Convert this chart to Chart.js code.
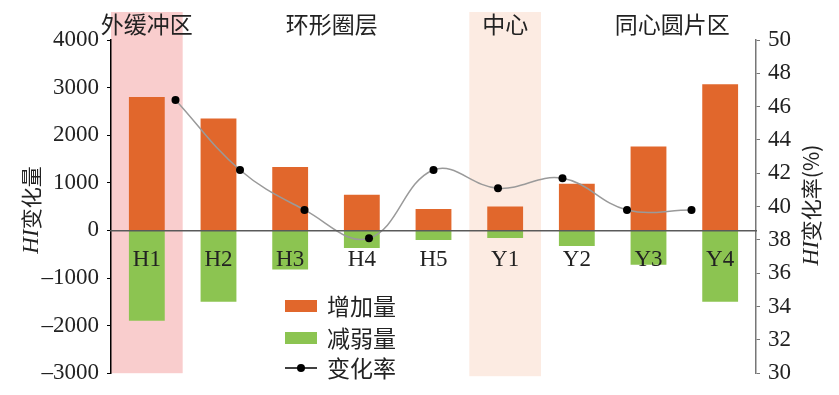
<!DOCTYPE html>
<html>
<head>
<meta charset="utf-8">
<script src="https://cdn.jsdelivr.net/npm/chart.js@4.4.1/dist/chart.umd.min.js"></script>
<style>
  html, body { margin: 0; padding: 0; background: #fff; }
</style>
</head>
<body>
<canvas id="hiChart" width="839" height="395"></canvas>
<script>
// data
const categories = ['H1', 'H2', 'H3', 'H4', 'H5', 'Y1', 'Y2', 'Y3', 'Y4'];
const increase = [2800, 2350, 1330, 750, 450, 500, 980, 1760, 3070];
const decrease = [-1900, -1500, -820, -370, -200, -160, -330, -720, -1500];
const changeRate = [46.4, 42.2, 39.8, 38.1, 42.2, 41.1, 41.7, 39.8, 39.8];
const seriesNames = ['增加量', '减弱量', '变化率'];
const zoneNames = ['外缓冲区', '环形圈层', '中心', '同心圆片区'];

// layout of the group headings (category position) and shaded columns
const zoneCenters = [0, 2.58, 5, 7.33];
const shaded = [{ index: 0, color: '#f9cdcd' }, { index: 5, color: '#fcebe2' }];

const ORANGE = '#e1672c';
const GREEN = '#8cc451';
const SERIF = "'Liberation Serif', 'Times New Roman', serif";
const CJK = "'Noto Sans CJK SC', sans-serif";

const fmtTick = v => (v < 0 ? '\u2013' + Math.abs(v) : String(v));

function drawTitle(ctx, cx, cy, italicPart, rest) {
    ctx.save();
    ctx.translate(cx, cy);
    ctx.rotate(-Math.PI / 2);
    ctx.textBaseline = 'middle';
    ctx.fillStyle = '#222';
    ctx.font = 'italic 23px ' + SERIF;
    const w1 = ctx.measureText(italicPart).width;
    ctx.font = '21px ' + CJK;
    const w2 = ctx.measureText(rest).width;
    let x = -(w1 + w2) / 2;
    ctx.font = 'italic 23px ' + SERIF;
    ctx.textAlign = 'left';
    ctx.fillText(italicPart, x, 1);
    ctx.font = '21px ' + CJK;
    ctx.fillText(rest, x + w1, 0);
    ctx.restore();
}

const decor = {
    id: 'decor',
    beforeDraw(chart) {
        const { ctx, chartArea, scales: { x } } = chart;
        const w = x.width / categories.length;
        ctx.save();
        shaded.forEach(s => {
            ctx.fillStyle = s.color;
            const px = x.getPixelForValue(s.index);
            ctx.fillRect(px - w / 2, 12, w, chartArea.bottom - 12 + (s.index ? 3 : 0));
        });
        ctx.restore();
    },
    afterDraw(chart) {
        const { ctx, scales: { x } } = chart;
        ctx.save();
        // group headings
        ctx.font = '23px ' + CJK;
        ctx.fillStyle = '#222';
        ctx.textAlign = 'center';
        ctx.textBaseline = 'middle';
        const w = x.width / categories.length;
        zoneNames.forEach((n, i) => {
            ctx.fillText(n, x.getPixelForValue(0) + zoneCenters[i] * w, 24);
        });

        // legend
        const lx = 285, ly = [306, 338, 368];
        const ds = chart.data.datasets;
        ctx.fillStyle = ds[0].backgroundColor;
        ctx.fillRect(lx, ly[0] - 6, 32, 12);
        ctx.fillStyle = ds[1].backgroundColor;
        ctx.fillRect(lx, ly[1] - 6, 32, 12);
        ctx.strokeStyle = '#000';
        ctx.lineWidth = 1.5;
        ctx.beginPath();
        ctx.moveTo(lx, ly[2]);
        ctx.lineTo(lx + 32, ly[2]);
        ctx.stroke();
        ctx.fillStyle = '#000';
        ctx.beginPath();
        ctx.arc(lx + 16, ly[2], 4, 0, Math.PI * 2);
        ctx.fill();
        ctx.fillStyle = '#222';
        ctx.textAlign = 'left';
        ctx.font = '23px ' + CJK;
        ds.forEach((d, i) => ctx.fillText(d.label, lx + 42, ly[i]));
        ctx.restore();

        drawTitle(ctx, 31, 210, 'HI', '变化量');
        drawTitle(ctx, 811, 205, 'HI', '变化率(%)');
    }
};

new Chart(document.getElementById('hiChart'), {
    data: {
        labels: categories,
        datasets: [
            {
                type: 'bar', label: seriesNames[0], data: increase, grouped: false,
                categoryPercentage: 1, barPercentage: 0.5,
                backgroundColor: ORANGE, xAxisID: 'x', yAxisID: 'y', order: 1
            },
            {
                type: 'bar', label: seriesNames[1], data: decrease, grouped: false,
                categoryPercentage: 1, barPercentage: 0.5,
                backgroundColor: GREEN, xAxisID: 'x', yAxisID: 'y', order: 1
            },
            {
                type: 'line', label: seriesNames[2], data: [null, ...changeRate, null],
                xAxisID: 'x2', yAxisID: 'y2', order: 0,
                borderColor: '#9a9a9a', borderWidth: 1.5, tension: 0.4,
                pointRadius: 4, pointBackgroundColor: '#000', pointBorderColor: '#000', pointBorderWidth: 0
            }
        ]
    },
    options: {
        responsive: false,
        animation: false,
        devicePixelRatio: 1,
        layout: { padding: { top: 40, bottom: 20, left: 0, right: 0 } },
        plugins: { legend: { display: false }, tooltip: { enabled: false } },
        scales: {
            x: {
                type: 'category', stacked: true, position: { y: 0 },
                grid: { display: false, drawTicks: false },
                border: { display: true, color: '#5a5a5a', width: 1.5, z: 1 },
                ticks: { z: 1, color: '#222', padding: 16, font: { family: SERIF, size: 23 } }
            },
            x2: {
                type: 'category', labels: ['', ...categories, ''], offset: false, display: false
            },
            y: {
                position: 'left', stacked: true, min: -3000, max: 4000,
                afterFit: s => { s.width = 111; },
                grid: { drawOnChartArea: false, drawTicks: true, tickLength: 4, color: '#000' },
                border: { display: true, color: '#000', width: 1.5 },
                ticks: { stepSize: 1000, padding: 8, color: '#222', font: { family: SERIF, size: 23 }, callback: fmtTick }
            },
            y2: {
                position: 'right', min: 30, max: 50,
                afterFit: s => { s.width = 83; },
                grid: { drawOnChartArea: false, drawTicks: true, tickLength: 4, color: '#777' },
                border: { display: true, color: '#777', width: 1.5 },
                ticks: { stepSize: 2, padding: 8, color: '#222', font: { family: SERIF, size: 23 } }
            }
        }
    },
    plugins: [decor]
});
</script>
</body>
</html>
